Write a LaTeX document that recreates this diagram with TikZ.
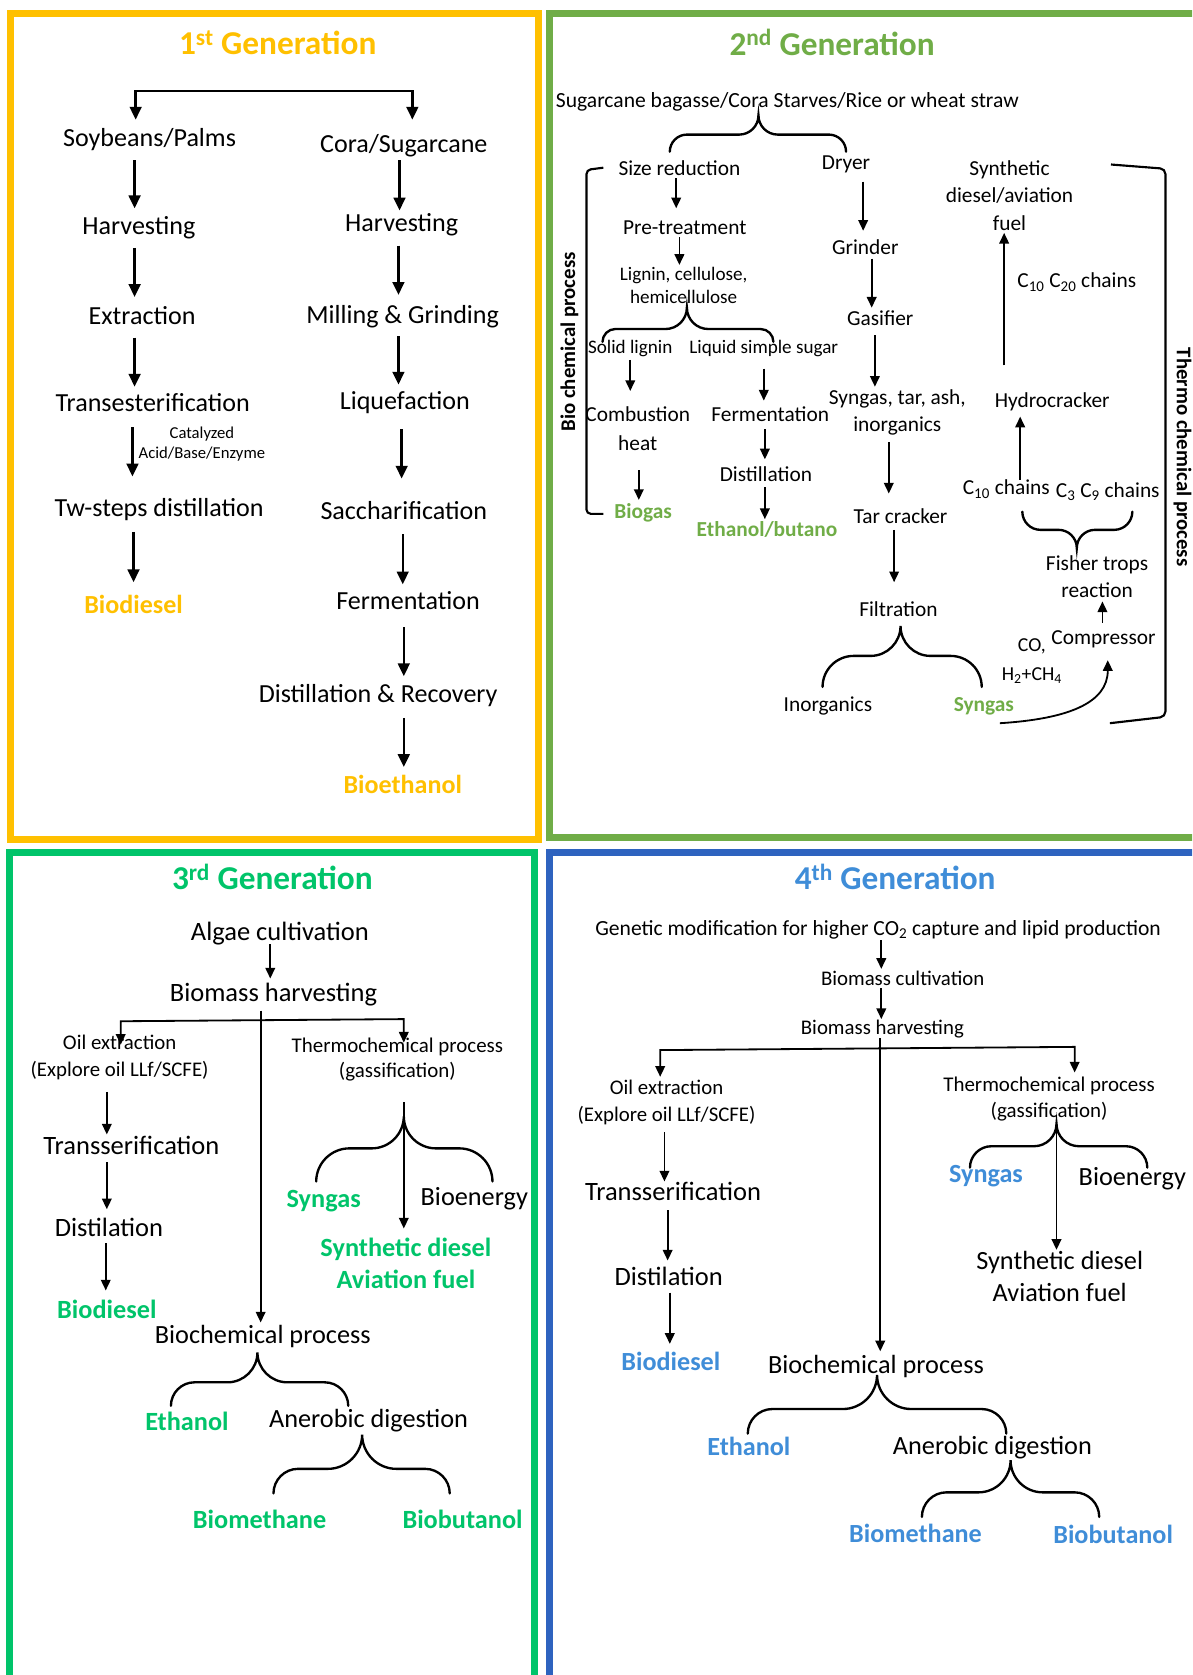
\documentclass[tikz,border=0pt]{standalone}
\usepackage{fontspec}
\setmainfont{Carlito}
\usetikzlibrary{arrows.meta,calc}
\definecolor{yel}{HTML}{FFC000}
\definecolor{gtwo}{HTML}{70AD47}
\definecolor{gthree}{HTML}{00C46A}
\definecolor{bfour}{HTML}{2E63BF}
\definecolor{bfourt}{HTML}{3F8DD8}
\newcommand\fsz[2]{\fontsize{#1}{#2}\selectfont}
% tip x, tip y, left x, right x, middle y, end y
\newcommand\bracepath[6]{%
  \pgfmathsetmacro\brRt{abs(#5-#2)}\pgfmathsetmacro\brRe{abs(#6-#5)}%
  \draw[brc] (#3,#6) .. controls (#3,{#6+0.55*(#5-#6)}) and ({#3+0.45*\brRe},#5) .. ({#3+\brRe},#5)
    -- ({#1-\brRt},#5) .. controls ({#1-0.45*\brRt},#5) and (#1,{#2+0.55*(#5-#2)}) .. (#1,#2)
    .. controls (#1,{#2+0.55*(#5-#2)}) and ({#1+0.45*\brRt},#5) .. ({#1+\brRt},#5)
    -- ({#4-\brRe},#5) .. controls ({#4-0.45*\brRe},#5) and (#4,{#6+0.55*(#5-#6)}) .. (#4,#6);}
\begin{document}
\begin{tikzpicture}[x=1pt,y=-1pt,
  every node/.style={inner sep=0pt},
  aone/.style={-{Triangle[length=12pt,width=11pt]}, line width=2.2pt},
  atwo/.style={-{Triangle[length=10pt,width=9pt]}, line width=1.7pt},
  brc/.style={line width=2.2pt, line cap=round},
  frame/.style={line width=6.5pt},
  ttl/.style={font=\fsz{31.2}{37}\bfseries},
  tone/.style={font=\fsz{24.4}{29}},
  tsm/.style={font=\fsz{15.6}{19}, align=center},
  ttwo/.style={font=\fsz{20}{26}, align=center},
  ttwos/.style={font=\fsz{17.9}{22}, align=center},
  tsrc/.style={font=\fsz{20.2}{24}},
  tnn/.style={font=\fsz{19.5}{25}, align=center},
  tthermo/.style={font=\fsz{19.6}{24}, align=center},
  tbig/.style={font=\fsz{24.8}{29}, align=center},
  tmid/.style={font=\fsz{24.6}{30}, align=center},
  oone/.style={font=\fsz{24.4}{29}\bfseries, text=yel},
  otwo/.style={font=\fsz{20}{26}\bfseries, text=gtwo},
  othree/.style={font=\fsz{24.6}{30}\bfseries, text=gthree, align=center},
  ofour/.style={font=\fsz{24.5}{30}\bfseries, text=bfourt},
  side/.style={font=\fsz{19.5}{24}\bfseries}
]
\useasboundingbox (0,0) rectangle (1116,1568);
\clip (0,0) rectangle (1116,1568);
\fill[white] (0,0) rectangle (1116,1568);

% ---------- frames ----------
\draw[frame, yel] (10,13) rectangle (504,786);
\draw[frame, gtwo] (514,13) rectangle (1140,784);
\draw[frame, gthree] (9,798) rectangle (500,1600);
\draw[frame, bfour] (514,798) rectangle (1140,1600);

% ---------- 1st generation ----------
\node[ttl, text=yel] (ttl1) at (260,40) {1\textsuperscript{st} Generation};
\node[tone] (soy) at (140,131) {Soybeans/Palms};
\node[tone] (cora) at (378,136) {Cora/Sugarcane};
\node[tone] (harvA) at (130,213) {Harvesting};
\node[tone] (harvB) at (376,210) {Harvesting};
\node[tone] (extr) at (133,295) {Extraction};
\node[tone] (mill) at (377,296) {Milling \& Grinding};
\node[tone] (trans) at (143,377) {Transesterification};
\node[tone] (liq) at (379,377) {Liquefaction};
\node[tsm] (cat) at (189,416) {Catalyzed\\Acid/Base/Enzyme};
\node[tone] (tw) at (149,477) {Tw-steps distillation};
\node[tone] (sacc) at (378,478) {Saccharification};
\node[oone] (bdA) at (125,566) {Biodiesel};
\node[tone] (fermA) at (382,562) {Fermentation};
\node[tone] (distA) at (354,651) {Distillation \& Recovery};
\node[oone] (beth) at (377,734) {Bioethanol};

\draw[aone, {Triangle[length=12pt,width=11pt]}-{Triangle[length=12pt,width=11pt]}]
  ($(soy)+(-13,-19)$) -- ++(0,-27) -| ($(cora)+(8,-24)$);
\draw[aone] ($(soy)+(-14,19)$) -- ($(harvA)+(-4,-18)$);
\draw[aone] ($(harvA)+(-4,19)$) -- ($(extr)+(-7,-17)$);
\draw[aone] ($(extr)+(-7,21)$) -- ($(trans)+(-17,-15)$);
\draw[aone] ($(trans)+(-19,23)$) -- ($(tw)+(-25,-31)$);
\draw[aone] ($(tw)+(-24,21)$) -- ($(bdA)+(0,-21)$);
\draw[aone] ($(cora)+(-4,14)$) -- ($(harvB)+(-2,-13)$);
\draw[aone] ($(harvB)+(-3,20)$) -- ($(mill)+(-4,-20)$);
\draw[aone] ($(mill)+(-4,19)$) -- ($(liq)+(-6,-17)$);
\draw[aone] ($(liq)+(-3,25)$) -- ($(sacc)+(-2,-30)$);
\draw[aone] ($(sacc)+(-1,22)$) -- ($(fermA)+(-5,-15)$);
\draw[aone] ($(fermA)+(-4,25)$) -- ($(distA)+(24,-18)$);
\draw[aone] ($(distA)+(24,21)$) -- ($(beth)+(1,-16)$);

% ---------- 2nd generation ----------
\node[ttl, text=gtwo] (ttl2) at (779,40) {2\textsuperscript{nd} Generation};
\node[tsrc] (src) at (737,95) {Sugarcane bagasse/Cora Starves/Rice or wheat straw};
\bracepath{710}{108}{627}{792}{126}{142}
\node[ttwo] (size) at (636,157) {Size reduction};
\node[ttwo] (dryer) at (792,154) {Dryer};
\node[ttwo] (pre) at (641,213) {Pre-treatment};
\node[ttwos] (lig) at (640,267) {Lignin, cellulose,\\hemicellulose};
\bracepath{643}{288}{564}{724}{308}{320}
\node[ttwos] (solid) at (590,326) {Solid lignin};
\node[ttwos] (liquid) at (715,326) {Liquid simple sugar};
\node[ttwo, font=\fsz{20}{27}] (comb) at (597,401) {Combustion\\heat};
\node[otwo] (biogas) at (602,480) {Biogas};
\node[ttwo] (fermB) at (721,388) {Fermentation};
\node[ttwo] (distB) at (717,444) {Distillation};
\node[otwo] (ethbut) at (718,496) {Ethanol/butano};
\node[ttwo] (grind) at (810,231) {Grinder};
\node[ttwo] (gasif) at (824,298) {Gasifier};
\node[ttwo] (syntar) at (840,386) {Syngas, tar, ash,\\inorganics};
\node[ttwo] (tarcr) at (843,483) {Tar cracker};
\node[ttwo] (filt) at (841,570) {Filtration};
\bracepath{843}{586}{770}{919}{614}{643}
\node[ttwo] (inorg) at (775,661) {Inorganics};
\node[otwo] (syngasB) at (921,661) {Syngas};
\node[ttwo, font=\fsz{18.5}{27}] (gasmix) at (966,619) {CO,\\H\textsubscript{2}+CH\textsubscript{4}};
\node[ttwo] (compr) at (1033,598) {Compressor};
\node[ttwo, font=\fsz{20}{25}] (fisher) at (1027,540) {Fisher trops\\reaction};
\bracepath{1008}{513}{957}{1060}{496}{479}
\node[ttwo] (cten) at (942,458) {C\textsubscript{10} chains};
\node[ttwo] (cthree) at (1037,460) {C\textsubscript{3} C\textsubscript{9} chains};
\node[ttwo] (hydro) at (985,376) {Hydrocracker};
\node[ttwo] (cchain) at (1008,264) {C\textsubscript{10} C\textsubscript{20} chains};
\node[ttwo] (synth) at (945,183) {Synthetic\\diesel/aviation\\fuel};
\node[side, rotate=90] (biolab) at (533,320) {Bio chemical process};
\node[side, rotate=-90] (thermolab) at (1107,428) {Thermo chemical process};

\draw[line width=2pt, rounded corners=4pt] ($(size.west)+(-14,0)$) -- (549,159) -- (549,481) -- ($(biogas.west)+(-10,1)$);
\draw[line width=2pt, rounded corners=5pt] ($(synth)+(95,-29)$) -- (1091,158) -- (1091,671) -- ($(syngasB)+(118,16)$);

\draw[atwo] ($(size)+(-3,10)$) -- ($(pre)+(-8,-18)$);
\draw[atwo] ($(pre)+(-5,9)$) -- ($(lig)+(-4,-19)$);
\draw[atwo] ($(solid)+(0,11)$) -- ($(comb)+(-7,-35)$);
\draw[atwo] ($(comb)+(1,39)$) -- ($(biogas)+(-4,-12)$);
\draw[atwo] ($(liquid)+(0,19)$) -- ($(fermB)+(-6,-13)$);
\draw[atwo] ($(fermB)+(-5,14)$) -- ($(distB)+(-1,-14)$);
\draw[atwo] ($(distB)+(-1,12)$) -- ($(ethbut)+(-2,-10)$);
\draw[atwo] ($(dryer)+(16,16)$) -- ($(grind)+(-2,-15)$);
\draw[atwo] ($(grind)+(6,11)$) -- ($(gasif)+(-8,-10)$);
\draw[atwo] ($(gasif)+(-5,16)$) -- ($(syntar)+(-21,-24)$);
\draw[atwo] ($(syntar)+(-8,28)$) -- ($(tarcr)+(-11,-21)$);
\draw[atwo] ($(tarcr)+(-6,13)$) -- ($(filt)+(-4,-25)$);
\draw[atwo] ($(syngasB)+(15,16)$) .. controls +(64,-4) and +(0,40) .. ($(compr)+(4,20)$);
\draw[atwo] ($(compr)+(-1,-15)$) -- ($(fisher)+(5,23)$);
\draw[atwo] ($(cten)+(13,-9)$) -- ($(hydro)+(-30,14)$);
\draw[atwo] ($(hydro)+(-45,-34)$) -- ($(synth)+(-5,35)$);

% ---------- 3rd generation ----------
\node[ttl, text=gthree] (ttl3) at (255,821) {3\textsuperscript{rd} Generation};
\node[tbig] (algae) at (262,874) {Algae cultivation};
\node[tbig] (bhC) at (256,931) {Biomass harvesting};
\node[tnn] (oilC) at (112,990) {Oil extraction\\(Explore oil LLf/SCFE)};
\node[tthermo] (thermoC) at (372,992) {Thermochemical process\\(gassification)};
\node[tbig] (transC) at (123,1072) {Transserification};
\node[tbig] (distC) at (102,1149) {Distilation};
\node[othree] (bdC) at (100,1226) {Biodiesel};
\node[othree] (syngasC) at (303,1124) {Syngas};
\node[tmid] (bioenC) at (444,1122) {Bioenergy};
\node[othree] (syndC) at (380,1183) {Synthetic diesel\\Aviation fuel};
\node[tmid] (bchemC) at (246,1251) {Biochemical process};
\node[othree] (ethC) at (175,1331) {Ethanol};
\node[tmid] (anaeC) at (345,1330) {Anerobic digestion};
\node[othree] (bmethC) at (243,1422) {Biomethane};
\node[othree] (bbutC) at (433,1422) {Biobutanol};

\draw[atwo] ($(algae)+(-9,10)$) -- ($(bhC)+(-3,-15)$);
\draw[atwo] ($(bhC)+(-12,15)$) -- ($(bchemC)+(-2,-13)$);
\draw[atwo, {Triangle[length=10pt,width=9pt]}-{Triangle[length=10pt,width=9pt]}]
  ($(oilC)+(1,-12)$) -- ($(oilC)+(1,-34)$) -- ($(thermoC)+(6,-38)$) -- ($(thermoC)+(6,-16)$);
\draw[atwo] ($(oilC)+(-12,32)$) -- ($(transC)+(-23,-10)$);
\draw[atwo] ($(transC)+(-23,16)$) -- ($(distC)+(-2,-17)$);
\draw[atwo] ($(distC)+(-3,15)$) -- ($(bdC)+(-1,-18)$);
\draw[atwo] ($(thermoC)+(6,40)$) -- ($(syndC)+(-2,-33)$);
\bracepath{378}{1045}{296}{461}{1075}{1106}
\bracepath{241}{1266}{160}{326}{1294}{1316}
\bracepath{339}{1343}{256}{421}{1375}{1398}

% ---------- 4th generation ----------
\node[ttl, text=bfourt] (ttl4) at (838,821) {4\textsuperscript{th} Generation};
\node[tsrc] (gen) at (822,870) {Genetic modification for higher CO\textsubscript{2} capture and lipid production};
\node[tnn] (bcult) at (845,916) {Biomass cultivation};
\node[tnn] (bhD) at (826,963) {Biomass harvesting};
\node[tnn] (oilD) at (624,1032) {Oil extraction\\(Explore oil LLf/SCFE)};
\node[tthermo] (thermoD) at (982,1029) {Thermochemical process\\(gassification)};
\node[tbig] (transD) at (630,1115) {Transserification};
\node[tbig] (distD) at (626,1195) {Distilation};
\node[ofour] (bdD) at (628,1274) {Biodiesel};
\node[ofour] (syngasD) at (923,1101) {Syngas};
\node[tmid] (bioenD) at (1060,1103) {Bioenergy};
\node[tmid] (syndD) at (992,1195) {Synthetic diesel\\Aviation fuel};
\node[tmid] (bchemD) at (820,1279) {Biochemical process};
\node[ofour] (ethD) at (701,1354) {Ethanol};
\node[tmid] (anaeD) at (929,1355) {Anerobic digestion};
\node[ofour] (bmethD) at (857,1435) {Biomethane};
\node[ofour] (bbutD) at (1042,1436) {Biobutanol};

\draw[atwo] ($(gen)+(3,10)$) -- ($(bcult)+(-20,-9)$);
\draw[atwo] ($(bcult)+(-20,9)$) -- ($(bhD)+(-1,-9)$);
\draw[atwo] ($(bhD)+(-2,9)$) -- ($(bchemD)+(4,-14)$);
\draw[atwo, {Triangle[length=10pt,width=9pt]}-{Triangle[length=10pt,width=9pt]}]
  ($(oilD)+(-6,-24)$) -- ($(oilD)+(-6,-49)$) -- ($(thermoD)+(24,-49)$) -- ($(thermoD)+(24,-25)$);
\draw[atwo] ($(oilD)+(-2,28)$) -- ($(transD)+(-8,-9)$);
\draw[atwo] ($(transD)+(-5,18)$) -- ($(distD)+(-1,-15)$);
\draw[atwo] ($(distD)+(1,15)$) -- ($(bdD)+(-1,-16)$);
\draw[atwo] ($(thermoD)+(7,21)$) -- ($(syndD)+(-3,-25)$);
\bracepath{989}{1052}{908}{1074}{1073}{1093}
\bracepath{821}{1287}{700}{942}{1319}{1342}
\bracepath{946}{1367}{863}{1029}{1397}{1420}
\end{tikzpicture}
\end{document}
